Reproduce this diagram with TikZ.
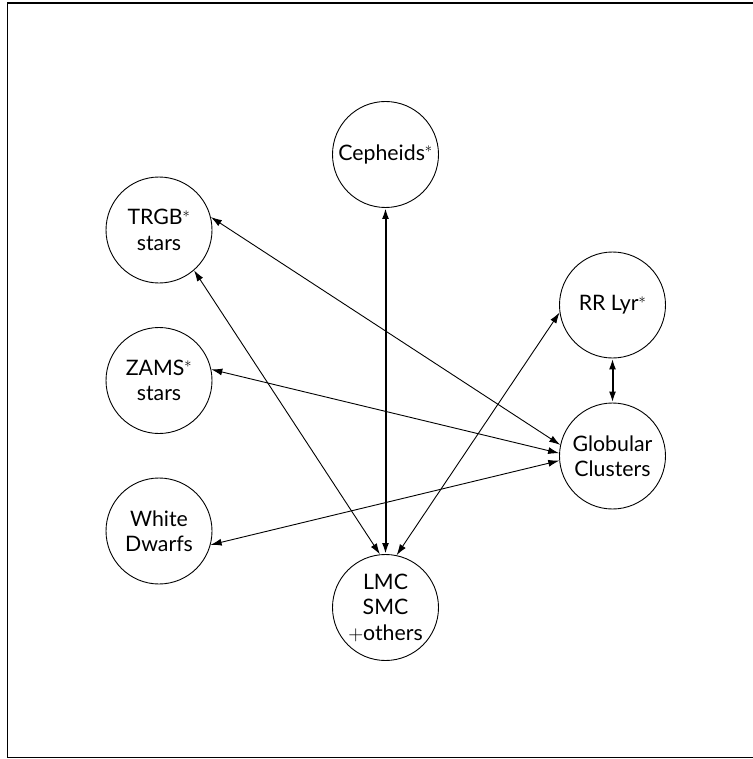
\documentclass[tikz,border=0pt]{standalone}
\usepackage{fontspec}
\setmainfont{Lato}
\usetikzlibrary{arrows.meta}
\tikzset{
  obj/.style={circle, draw, line width=0.9pt, minimum size=106pt, inner sep=0pt,
    align=center, font=\fontsize{21.3}{25.5}\selectfont},
  link/.style={{Latex[length=11pt,width=7pt]}-{Latex[length=11pt,width=7pt]}, line width=0.9pt},
  strong/.style={{Latex[length=11pt,width=7pt]}-{Latex[length=11pt,width=7pt]}, line width=2pt},
  frame/.style={draw, line width=1.7pt}
}
\begin{document}
\begin{tikzpicture}[x=1pt,y=-1pt]
\useasboundingbox (0,0) rectangle (752,759);
\draw[frame] (7.5,3) rectangle (754,757.5);
\node[obj] (ceph) at (385.5,154.5) {Cepheids$^*$};
\node[obj] (trgb) at (159,230) {TRGB$^*$\\stars};
\node[obj] (zams) at (159,380.5) {ZAMS$^*$\\stars};
\node[obj] (wd)   at (159,531) {White\\Dwarfs};
\node[obj] (rr)   at (612.5,305) {RR Lyr$^*$};
\node[obj] (gc)   at (612.5,456) {Globular\\Clusters};
\node[obj] (lmc)  at (385.5,607.5) {LMC\\SMC\\$+$others};
\draw[strong] (ceph.south) -- (lmc.north);
\draw[strong] (rr.south) -- (gc.north);
\draw[link] (trgb.14) -- (gc.168);
\draw[link] (trgb.-49) -- (lmc.96);
\draw[link] (zams.12) -- (gc.177);
\draw[link] (wd.-15) -- (gc.185);
\draw[link] (rr.188) -- (lmc.78);
\end{tikzpicture}
\end{document}
